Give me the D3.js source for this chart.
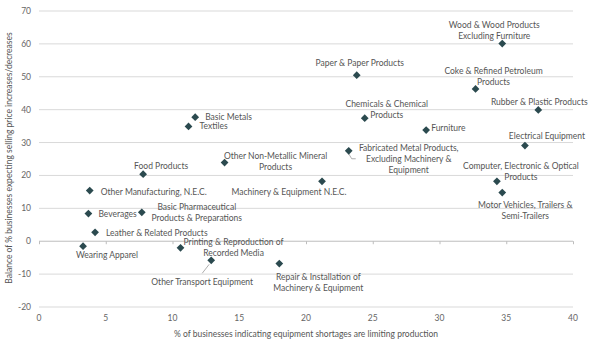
<!DOCTYPE html>
<html><head><meta charset="utf-8">
<script src="https://cdn.jsdelivr.net/npm/d3@7"></script>
<style>
body{margin:0;background:#fff;}
text{font-family:Lato,"Open Sans",sans-serif;}
</style></head>
<body><svg id="c" width="596" height="355"></svg>
<script>
const names = ["Wood & Wood Products|Excluding Furniture","Paper & Paper Products","Coke & Refined Petroleum|Products","Rubber & Plastic Products","Chemicals & Chemical|Products","Furniture","Electrical Equipment","Fabricated Metal Products,|Excluding Machinery &|Equipment","Computer, Electronic & Optical|Products","Motor Vehicles, Trailers &|Semi-Trailers","Machinery & Equipment N.E.C.","Basic Metals","Textiles","Other Non-Metallic Mineral|Products","Food Products","Other Manufacturing, N.E.C.","Beverages","Basic Pharmaceutical|Products & Preparations","Leather & Related Products","Wearing Apparel","Printing & Reproduction of|Recorded Media","Other Transport Equipment","Repair & Installation of|Machinery & Equipment"];
const shortage = [34.7,23.8,32.7,37.4,24.4,29.0,36.4,23.2,34.3,34.7,21.2,11.7,11.2,13.9,7.8,3.8,3.7,7.7,4.2,3.3,10.6,12.9,18.0];
const priceBalance = [60.1,50.5,46.3,39.9,37.4,33.8,29.1,27.5,18.2,14.8,18.2,37.7,34.9,23.9,20.4,15.4,8.4,8.8,2.7,-1.5,-2.0,-5.8,-6.8];
// label offsets (dx, dy of first line, anchor) relative to marker
const labelDx = [-8,3,18,1,22,5,22,60,24,23,-33,10,11,51,18,11,10,55,11,24,53,-9,39];
const labelDy = [-19,-12,-18,-8,-14,-2,-9,-3,-15,12,11,0,0,-7,-8,1,0,-5,1,9,-6,22,13];
const labelAnchor = ["middle","middle","middle","middle","middle","start","middle","middle","middle","middle","middle","start","start","middle","middle","start","start","middle","start","middle","middle","middle","middle"];
const xTicks = [0,5,10,15,20,25,30,35,40];
const yTicks = [-20,-10,0,10,20,30,40,50,60,70];

const svg = d3.select("#c");
const x = d3.scaleLinear().domain([0,40]).range([39,573]);
const y = d3.scaleLinear().domain([-20,70]).range([307,11]);

// gridlines
svg.append("g").selectAll("line").data(yTicks.filter(d=>d!==0)).join("line")
  .attr("x1",x(0)).attr("x2",x(40)).attr("y1",d=>y(d)).attr("y2",d=>y(d))
  .attr("stroke","#d9d9d9").attr("stroke-width",1);
// zero axis with ticks
const xa = svg.append("g").attr("transform",`translate(0,${y(0)})`)
  .call(d3.axisBottom(x).tickValues(xTicks).tickSize(3).tickFormat(""));
xa.select(".domain").attr("stroke","#bdbdbd").attr("d",`M${x(0)},0H${x(40)}`);
xa.selectAll(".tick line").attr("stroke","#bdbdbd");

// x tick labels
svg.append("g").selectAll("text").data(xTicks).join("text")
  .attr("x",d=>x(d)).attr("y",321).attr("text-anchor","middle")
  .attr("font-size",8.5).attr("fill","#666").text(d=>d);
// y tick labels
svg.append("g").selectAll("text").data(yTicks).join("text")
  .attr("x",31).attr("y",d=>y(d)).attr("dy","0.35em").attr("text-anchor","end")
  .attr("font-size",8.5).attr("fill","#666").text(d=>d);

// axis titles
svg.append("text").attr("x",306).attr("y",337).attr("text-anchor","middle")
  .attr("font-size",8.5).attr("fill","#555")
  .text("% of businesses indicating equipment shortages are limiting production");
svg.append("text").attr("transform","translate(12,158) rotate(-90)").attr("text-anchor","middle")
  .attr("font-size",8.5).attr("fill","#555")
  .text("Balance of % businesses expecting selling price increases/decreases");

// leader lines
const leaders = [[7,[[0,3],[3,8],[7,8]]],[21,[[-2,4],[-9,13]]]];
leaders.forEach(([i,pts])=>{
  svg.append("path").attr("d", d3.line()(pts.map(p=>[x(shortage[i])+p[0], y(priceBalance[i])+p[1]])))
    .attr("fill","none").attr("stroke","#999").attr("stroke-width",0.8);
});

// markers
const data = names.map((n,i)=>({n,xv:shortage[i],yv:priceBalance[i],i}));
svg.append("g").selectAll("path").data(data).join("path")
  .attr("d", d3.symbol(d3.symbolSquare, 30)())
  .attr("transform", d=>`translate(${x(d.xv)},${y(d.yv)}) rotate(45)`)
  .attr("fill","#2b4a4f");

// labels
const lg = svg.append("g");
data.forEach(d=>{
  const t = lg.append("text")
    .attr("x", x(d.xv)+labelDx[d.i]).attr("y", y(d.yv)+labelDy[d.i])
    .attr("text-anchor",labelAnchor[d.i])
    .attr("font-size",8.5).attr("fill","#555");
  d.n.split("|").forEach((ln,k)=>{
    t.append("tspan").attr("x", x(d.xv)+labelDx[d.i]).attr("dy", k===0?"0.35em":"11px").text(ln);
  });
});
</script></body></html>
